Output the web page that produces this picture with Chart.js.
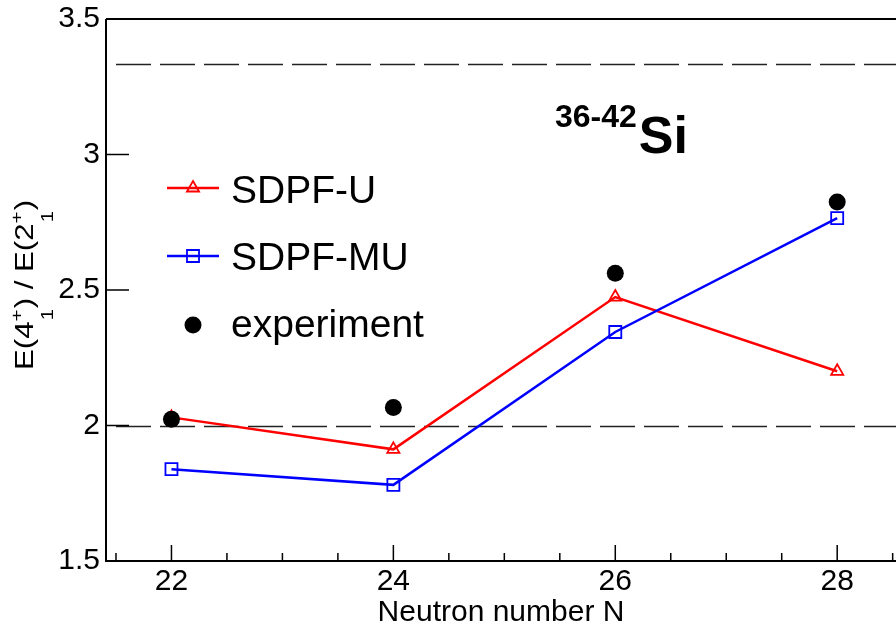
<!DOCTYPE html>
<html>
<head>
<meta charset="utf-8">
<script src="https://cdn.jsdelivr.net/npm/chart.js@4.4.0/dist/chart.umd.min.js"></script>
<style>
  html, body { margin: 0; padding: 0; background: #fff; overflow: hidden; }
  #wrap { position: relative; width: 896px; height: 635px; }
</style>
</head>
<body>
<div id="wrap"><canvas id="ratioChart"></canvas></div>
<script>
// E(4+1)/E(2+1) for 36-42Si
var neutrons = [22, 24, 26, 28]
var sdpfU = [2.03, 1.912, 2.474, 2.20]
var sdpfMU = [1.839, 1.781, 2.345, 2.765]
var experiment = [2.023, 2.066, 2.562, 2.825]
var yTicks = [1.5, 2, 2.5, 3, 3.5]
var xTicks = [22, 24, 26, 28]
var xMinorTicks = [21.5, 22.5, 23, 23.5, 24.5, 25, 25.5, 26.5, 27, 27.5, 28.5]
var refLines = [2, 3.333]
var seriesNames = ['SDPF-U', 'SDPF-MU', 'experiment']

var FONT = "'Liberation Sans', Arial, Helvetica, sans-serif"

function toPoints(values) {
  return values.map(function (v, i) { return { x: neutrons[i], y: v } })
}

var decorPlugin = {
  id: 'decor',
  beforeDatasetsDraw: function (chart) {
    var ctx = chart.ctx
    var area = chart.chartArea
    var xs = chart.scales.x
    var ys = chart.scales.y
    ctx.save()

    // dashed reference lines
    ctx.strokeStyle = '#222'
    ctx.lineWidth = 1.5
    ctx.setLineDash([35, 9])
    for (let v of refLines) {
      let y = Math.round(ys.getPixelForValue(v)) + 0.5
      ctx.beginPath()
      ctx.moveTo(area.left + 10, y)
      ctx.lineTo(area.right, y)
      ctx.stroke()
    }
    ctx.setLineDash([])

    // frame (left, bottom, top)
    ctx.strokeStyle = '#000'
    ctx.lineWidth = 2
    ctx.beginPath()
    ctx.moveTo(area.left, area.top)
    ctx.lineTo(area.right, area.top)
    ctx.moveTo(area.left, area.top)
    ctx.lineTo(area.left, area.bottom)
    ctx.lineTo(area.right, area.bottom)
    ctx.stroke()

    // inward ticks
    ctx.lineWidth = 1.5
    ctx.beginPath()
    for (let v of yTicks) {
      let y = ys.getPixelForValue(v)
      ctx.moveTo(area.left, y)
      ctx.lineTo(area.left + 23, y)
    }
    for (let v of xTicks) {
      let x = xs.getPixelForValue(v)
      ctx.moveTo(x, area.bottom)
      ctx.lineTo(x, area.bottom - 16)
    }
    for (let v of xMinorTicks) {
      let x = xs.getPixelForValue(v)
      ctx.moveTo(x, area.bottom)
      ctx.lineTo(x, area.bottom - 8)
    }
    ctx.stroke()
    ctx.restore()
  },
  afterDraw: function (chart) {
    var ctx = chart.ctx
    ctx.save()

    // legend
    var legendY = [188, 256, 325]
    var baseY = [203, 270, 337]
    chart.data.datasets.forEach(function (ds, i) {
      if (ds.showLine !== false) {
        ctx.strokeStyle = ds.borderColor
        ctx.lineWidth = ds.borderWidth
        ctx.beginPath()
        ctx.moveTo(167, legendY[i])
        ctx.lineTo(219, legendY[i])
        ctx.stroke()
      }
      ctx.strokeStyle = ds.pointBorderColor
      ctx.fillStyle = ds.pointBackgroundColor
      ctx.lineWidth = ds.pointBorderWidth
      Chart.helpers.drawPoint(ctx, {
        pointStyle: ds.pointStyle,
        radius: ds.pointRadius,
        rotation: 0,
        borderWidth: ds.pointBorderWidth
      }, 193, legendY[i])
      ctx.fillStyle = '#000'
      ctx.font = '39px ' + FONT
      ctx.textBaseline = 'alphabetic'
      ctx.textAlign = 'left'
      ctx.fillText(ds.label, 231, baseY[i])
    })

    // nucleus label
    ctx.fillStyle = '#000'
    ctx.font = 'bold 32px ' + FONT
    ctx.fillText('36-42', 555, 127)
    var w = ctx.measureText('36-42').width
    ctx.font = 'bold 52px ' + FONT
    ctx.fillText('Si', 555 + w + 2, 153)

    // y-axis title with super/subscripts
    ctx.save()
    ctx.translate(33, 370)
    ctx.rotate(-Math.PI / 2)
    ctx.scale(1.2, 1)
    var x = 0
    var parts = [['E(4', '+', '1'], [') / E(2', '+', '1'], [')', null, null]]
    for (let p of parts) {
      ctx.font = '26px ' + FONT
      ctx.fillText(p[0], x, 0)
      x += ctx.measureText(p[0]).width
      if (p[1]) {
        ctx.font = '17px ' + FONT
        ctx.fillText(p[1], x, -11)
        ctx.fillText(p[2], x + 1, 20)
        x += Math.max(ctx.measureText(p[1]).width, ctx.measureText(p[2]).width) + 1
      }
    }
    ctx.restore()

    ctx.restore()
  }
}

var ctx = document.getElementById('ratioChart').getContext('2d')
var ratioChart = new Chart(ctx, {
  type: 'line',
  data: {
    datasets: [
      {
        label: seriesNames[0],
        data: toPoints(sdpfU),
        borderColor: '#ff0000',
        borderWidth: 2.5,
        pointStyle: 'triangle',
        pointRadius: 7,
        pointBorderColor: '#ff0000',
        pointBackgroundColor: 'rgba(0,0,0,0)',
        pointBorderWidth: 1.8,
        tension: 0,
        order: 2
      },
      {
        label: seriesNames[1],
        data: toPoints(sdpfMU),
        borderColor: '#0000ff',
        borderWidth: 2.5,
        pointStyle: 'rect',
        pointRadius: 8.5,
        pointBorderColor: '#0000ff',
        pointBackgroundColor: 'rgba(0,0,0,0)',
        pointBorderWidth: 1.8,
        tension: 0,
        order: 1
      },
      {
        label: seriesNames[2],
        data: toPoints(experiment),
        showLine: false,
        borderColor: '#000',
        pointStyle: 'circle',
        pointRadius: 8.5,
        pointBorderColor: '#000',
        pointBackgroundColor: '#000',
        pointBorderWidth: 0,
        order: 0
      }
    ]
  },
  options: {
    responsive: true,
    maintainAspectRatio: false,
    animation: false,
    events: [],
    layout: {
      autoPadding: false,
      padding: { left: 0, right: 0, top: 19, bottom: 0 }
    },
    plugins: {
      legend: { display: false },
      tooltip: { enabled: false }
    },
    scales: {
      x: {
        type: 'linear',
        min: 21.41,
        max: 28.53,
        afterBuildTicks: function (scale) {
          scale.ticks = xTicks.map(function (v) { return { value: v } })
        },
        afterFit: function (scale) {
          scale.height = 74
          scale.paddingLeft = 0
          scale.paddingRight = 0
        },
        grid: { display: false, drawTicks: false },
        border: { display: false },
        ticks: {
          color: '#000',
          padding: 3,
          maxRotation: 0,
          font: { family: FONT, size: 30 }
        },
        title: {
          display: true,
          text: 'Neutron number N',
          color: '#000',
          font: { family: FONT, size: 30 },
          padding: { top: 0, bottom: 4 }
        }
      },
      y: {
        min: 1.5,
        max: 3.5,
        afterBuildTicks: function (scale) {
          scale.ticks = yTicks.map(function (v) { return { value: v } })
        },
        afterFit: function (scale) {
          scale.width = 106
          scale.paddingTop = 0
          scale.paddingBottom = 0
        },
        grid: { display: false, drawTicks: false },
        border: { display: false },
        ticks: {
          color: '#000',
          padding: 6,
          font: { family: FONT, size: 30 },
          callback: function (value) { return String(value) }
        }
      }
    }
  },
  plugins: [decorPlugin]
})
</script>
</body>
</html>
